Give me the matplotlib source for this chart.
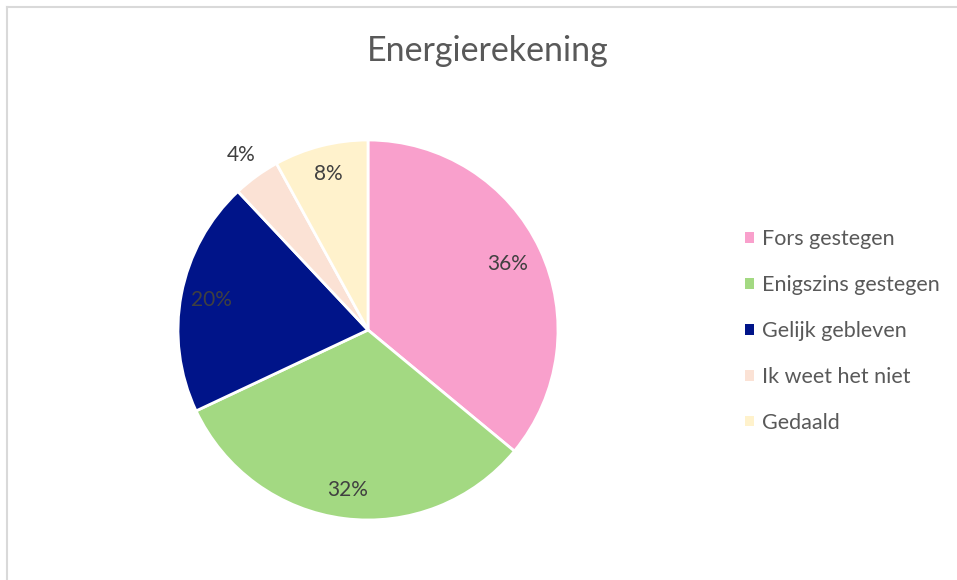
import matplotlib.pyplot as plt
import numpy as np

# data
labels = ['Fors gestegen', 'Enigszins gestegen', 'Gelijk gebleven', 'Ik weet het niet', 'Gedaald']
values = [36, 32, 20, 4, 8]
colors = ['#F9A0CC', '#A3D982', '#001489', '#FBE2D5', '#FFF2CC']

plt.rcParams['font.family'] = ['Lato', 'DejaVu Sans']

W, H = 957, 580
fig = plt.figure(figsize=(W / 100, H / 100), dpi=100)

# light grey frame (left and top edges visible)
fig.add_artist(plt.Line2D([7.5 / W, 7.5 / W], [0, 1 - 6.5 / H], color='#D9D9D9', lw=1.5))
fig.add_artist(plt.Line2D([7.5 / W, 1], [1 - 6.5 / H, 1 - 6.5 / H], color='#D9D9D9', lw=1.5))

# pie centred at (368, 330) px with radius 190 px
cx, cy, r = 368, 330, 190
ax = fig.add_axes([(cx - r) / W, (H - cy - r) / H, 2 * r / W, 2 * r / H])
wedges, _ = ax.pie(values, colors=colors, startangle=90, counterclock=False,
                   wedgeprops=dict(edgecolor='white', linewidth=2))
ax.set_xlim(-1, 1)
ax.set_ylim(-1, 1)
ax.set_aspect('equal')
ax.axis('off')

# percentage labels
dist = [0.81, 0.85, 0.84, 1.14, 0.85]
start = 90
for v, d in zip(values, dist):
    mid = np.deg2rad(start - v * 3.6 / 2)
    start -= v * 3.6
    ax.text(d * np.cos(mid), d * np.sin(mid), f'{v}%', ha='center', va='center',
            fontsize=15, color='#404040')

fig.text(488 / W, 1 - 51 / H, 'Energierekening', ha='center', va='center',
         fontsize=24.5, color='#595959')

leg = fig.legend(wedges, labels, loc='center left', bbox_to_anchor=(726 / W, 1 - 331 / H),
                 frameon=False, handlelength=0.4, handleheight=0.4, handletextpad=0.35,
                 labelspacing=1.2, fontsize=15.5)
for t in leg.get_texts():
    t.set_color('#595959')
for h in leg.legend_handles:
    h.set_edgecolor('none')

fig.savefig('out.png', dpi=100)
